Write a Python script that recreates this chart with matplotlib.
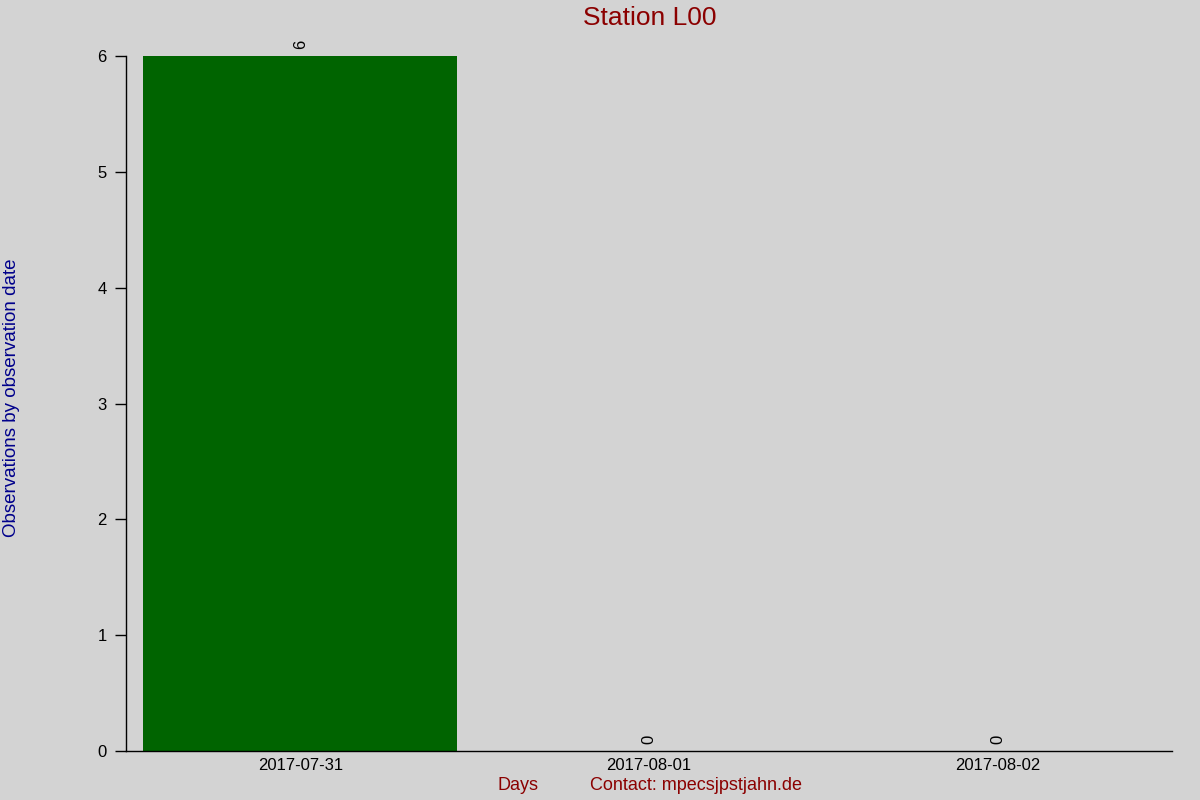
import matplotlib
matplotlib.use("Agg")
import matplotlib.pyplot as plt

days = ["2017-07-31", "2017-08-01", "2017-08-02"]
counts = [6, 0, 0]
yticks = [0, 1, 2, 3, 4, 5, 6]

plt.rcParams["font.family"] = ["Liberation Sans", "DejaVu Sans"]
bg = "#d3d3d3"

fig = plt.figure(figsize=(12, 8), dpi=100, facecolor=bg)
ax = fig.add_axes([0.105, 0.06125, 0.8717, 0.86875], facecolor=bg)

x = list(range(len(days)))
ax.bar(x, counts, width=0.9, color="#006400")

for xi, c in zip(x, counts):
    ax.annotate(str(c), (xi, c), xytext=(0, 5), textcoords="offset points",
                rotation=90, ha="center", va="bottom", fontsize=12)

ax.set_xlim(-0.5, 2.5)
ax.set_ylim(0, 6)
ax.set_xticks(x)
ax.set_xticklabels(days, fontsize=12)
ax.set_yticks(yticks)
ax.set_yticklabels([str(v) for v in yticks], fontsize=12)
ax.tick_params(axis="x", length=0, pad=5)
ax.tick_params(axis="y", length=8, width=1, pad=6)

for s in ["top", "right"]:
    ax.spines[s].set_visible(False)
ax.spines["left"].set_linewidth(1)
ax.spines["bottom"].set_linewidth(1)

fig.text(0.5417, 0.977, "Station L00", ha="center", va="center",
         fontsize=19, color="#8b0000")
fig.text(0.010, 0.503, "Observations by observation date", rotation=90,
         ha="center", va="center", fontsize=13.5, color="#00008b")
fig.text(0.4317, 0.0175, "Days", ha="center", va="center",
         fontsize=13, color="#8b0000")
fig.text(0.4917, 0.0175, "Contact: mpecsjpstjahn.de", ha="left", va="center",
         fontsize=13, color="#8b0000")

fig.savefig("out.png", dpi=100, facecolor=bg)
